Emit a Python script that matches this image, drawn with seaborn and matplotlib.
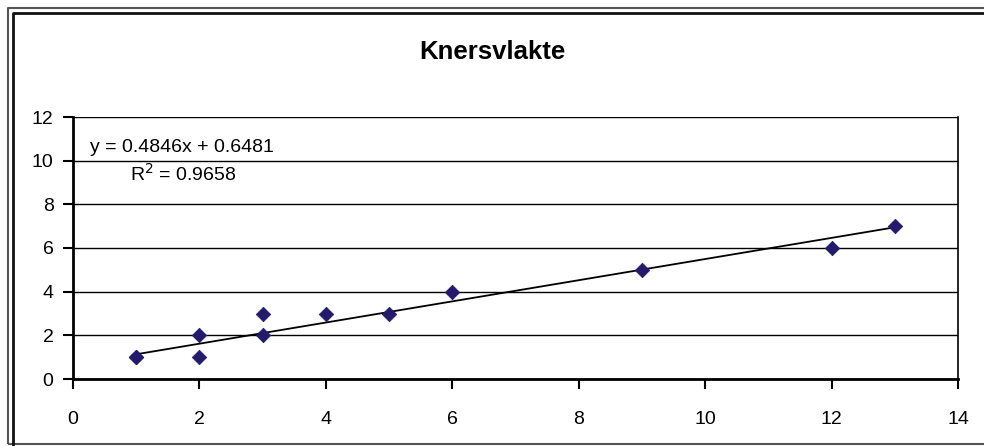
import matplotlib

matplotlib.use("Agg")
import matplotlib.pyplot as plt
import numpy as np
import pandas as pd
import seaborn as sns
from matplotlib.lines import Line2D

# ── Data ─────────────────────────────────────────────────────────────
x_vals = [1, 1, 2, 2, 3, 3, 4, 5, 6, 9, 12, 13]
y_vals = [1, 1, 2, 1, 3, 2, 3, 3, 4, 5, 6, 7]
slope = 0.4846
intercept = 0.6481
r_squared = 0.9658
x_ticks = [0, 2, 4, 6, 8, 10, 12, 14]
y_ticks = [0, 2, 4, 6, 8, 10, 12]
title = "Knersvlakte"

df = pd.DataFrame({"x": x_vals, "y": y_vals})
x_fit = np.array([min(x_vals), max(x_vals)])
fit_df = pd.DataFrame({"x": x_fit, "y": slope * x_fit + intercept})

sns.set_style("white")
plt.rcParams["font.family"] = ["Liberation Sans", "DejaVu Sans"]
plt.rcParams["text.color"] = "black"

W, H = 984, 446
fig = plt.figure(figsize=(W / 100, H / 100), dpi=100)
ax = fig.add_axes([73 / W, 1 - 379 / H, (958 - 73) / W, (379 - 117) / H])

# ── Chart frame (Excel style double border, left/top/bottom only) ────
def frame_line(xs, ys, color, lw):
    fig.lines.append(Line2D([v / W for v in xs], [1 - v / H for v in ys],
                            transform=fig.transFigure, color=color,
                            linewidth=lw, solid_capstyle="butt"))

frame_line([7.5, 7.5, W], [444, 7.5, 7.5], "#555555", 1.5)
frame_line([7.5, W], [444, 444], "#555555", 1.5)
frame_line([12.5, 12.5, W], [H, 12.5, 12.5], "#111111", 2.0)

# ── Marks ────────────────────────────────────────────────────────────
sns.lineplot(data=fit_df, x="x", y="y", ax=ax, color="black", linewidth=1.3, zorder=3)
sns.scatterplot(data=df, x="x", y="y", ax=ax, marker="D", s=55,
                color="#231a6b", edgecolor="#231a6b", linewidth=0.5, zorder=4)

ax.set_xlim(0, 14)
ax.set_ylim(0, 12)
ax.set_xticks(x_ticks)
ax.set_yticks(y_ticks)
ax.set_xlabel("")
ax.set_ylabel("")
ax.yaxis.grid(True, color="black", linewidth=1.0)
ax.set_axisbelow(True)

ax.spines["top"].set_visible(False)
ax.spines["left"].set_color("black")
ax.spines["left"].set_linewidth(2.0)
ax.spines["bottom"].set_color("black")
ax.spines["bottom"].set_linewidth(2.0)
ax.spines["right"].set_color("black")
ax.spines["right"].set_linewidth(1.2)

ax.tick_params(axis="both", which="major", direction="out", length=7, width=1.5,
               color="black", labelsize=14, labelcolor="black")
ax.tick_params(axis="x", bottom=True, pad=16)
ax.tick_params(axis="y", left=True, pad=7)

# ── Trendline label ──────────────────────────────────────────────────
fig.text(90 / W, 1 - 147 / H, f"y = {slope:.4f}x + {intercept:.4f}",
         fontsize=14, va="center", ha="left", color="black")
fig.text(130 / W, 1 - 174 / H, f"R$^2$ = {r_squared:.4f}",
         fontsize=14, va="center", ha="left", color="black")

fig.text(0.5, 1 - 52 / H, title, fontsize=18.5, fontweight="bold",
         ha="center", va="center", color="black")

fig.savefig("out.png", dpi=100)
